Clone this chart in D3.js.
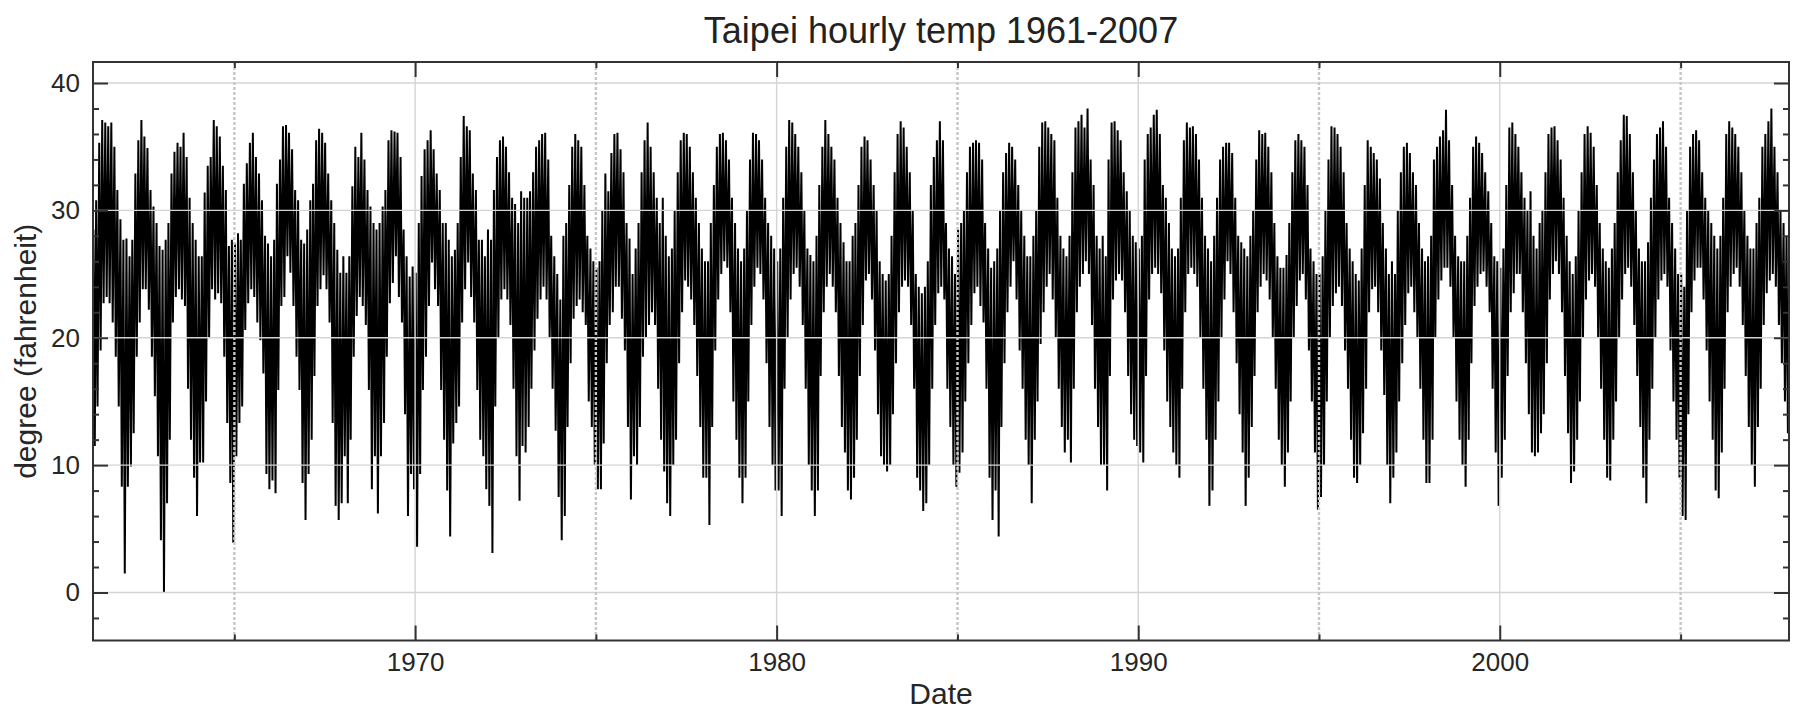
<!DOCTYPE html>
<html>
<head>
<meta charset="utf-8">
<script src="https://cdn.jsdelivr.net/npm/d3@7"></script>
<style>
  html, body { margin: 0; padding: 0; background: #fff; }
  text { font-family: "Liberation Sans", Arial, sans-serif; fill: #222; }
</style>
</head>
<body>
<script>
// monthly extremes, series starts Feb 1961
var firstYear = 1961, firstMonth = 1;

var tempMax = [
  /*1961*/ 28.5,30.8,35.3,37.1,36.9,36.6,36.9,35,31.6,29.3,27.7,
  /*1962*/ 27.8,26.4,27.7,32.9,35.5,37.1,35.8,34.9,31.6,30.3,29,27.2,
  /*1963*/ 26.9,27.7,29,32.9,34.6,35.3,35,36.1,34.2,31,29,27.7,
  /*1964*/ 26.4,26.4,31.4,33.5,34.2,37.1,36.6,35.8,33.5,31.6,27.2,27.7,
  /*1965*/ 27.4,28.2,27.7,32.1,33.7,35.3,36.1,34.2,32.9,30.8,28,27.4,
  /*1966*/ 26.4,27.7,32.1,34,36.6,36.7,36.1,34.8,31.6,30.8,27.7,27.4,
  /*1967*/ 28.5,30.8,32.1,35.5,36.4,36.1,35.3,32.9,30.8,29,26.9,25.1,
  /*1968*/ 26.4,25.1,26.4,31.9,35,34.2,36.1,34,31.6,30.3,29,28.5,
  /*1969*/ 29,30.3,31.6,35.5,36.3,36.2,36.1,34.2,28.5,26.4,24.8,25.6,
  /*1970*/ 25.1,29,32.7,34.8,35.5,36.3,34.8,32.9,31.6,29,29,27.7,
  /*1971*/ 26.4,26.9,29,34.2,37.4,36.6,36.3,32.9,31.6,27.7,27.7,26.4,
  /*1972*/ 28.5,27.7,31.6,34.2,35.5,35.8,35,33,31,30.5,29,31.5,
  /*1973*/ 31,31,31.5,33,35,35.5,36,36.1,34,28,26.4,25,
  /*1974*/ 23,28,29,32,35,36,35.5,35,32,28,27,26,
  /*1975*/ 25.5,26,30,32.9,31.5,34.5,36,36.1,34.8,33,29,27.8,
  /*1976*/ 25,27,29,33,35.5,36.9,35,33,31,29,31,28,
  /*1977*/ 26.4,27,30,33,35.5,36.1,36,35,33,31,29,27,
  /*1978*/ 26,26,29,32,35,36,36.1,35.5,34,31,29,27,
  /*1979*/ 26,27,30,34,36.1,36,35.5,34,31,29,28,27,
  /*1980*/ 26,27,31,35,37.1,36.9,36,35,33,30,27,26.5,
  /*1981*/ 26,28,32,35,37.1,36,35,34,31,29,27.5,26,
  /*1982*/ 26,28,29,32,35,35.8,35.5,34,32,30,26,25,
  /*1983*/ 24.5,25,28,33,36,37,36.5,35,33,30,25,24,
  /*1984*/ 23.5,24,26,32,34.2,35.5,37,35.5,29,27,26.4,25,
  /*1985*/ 28.5,29,30,33,35,35.3,35.5,35.3,34,29,27,25.5,
  /*1986*/ 26,27,30,33,34.5,35.3,35,34,32,30,28,26.4,
  /*1987*/ 26.4,28,30,35,36.9,37,36.5,36,35.5,31,28,27,
  /*1988*/ 26.4,28,33,36.5,37,37.5,36.5,38,34,32,28,27,
  /*1989*/ 28,26.4,34,36.9,37,36.3,35.5,33,31.5,30,28,27.5,
  /*1990*/ 27,28,34,36,36.5,37.5,37.9,36,32,31,29,27,
  /*1991*/ 26.4,27,31,35.5,36.9,36.5,36.6,36,34,31,28,27,
  /*1992*/ 26,28,31,34,35,35.3,35.3,34.5,31,28,27.5,27,
  /*1993*/ 26.4,28,30,34,36.3,36,36.1,35,33,29,26.4,25.5,
  /*1994*/ 25.5,26.5,29,33,35.5,36,35.5,35,32,27,26,25,
  /*1995*/ 25,26.4,30,34,36.6,36.5,36,35,33,29,27,26,
  /*1996*/ 25,24.5,27,32,35.5,35,34.5,34,32.5,29,27,25,
  /*1997*/ 26,25,30,33,35,35.3,34.5,33,32,29,27,26,
  /*1998*/ 26.4,28,34,35,35.8,36.3,37.9,35.5,32,28,26.4,26,
  /*1999*/ 26,28,31,35,35.8,35.3,34.5,33,31.5,29,26.4,26,
  /*2000*/ 25.5,27,32,36.5,36.9,36,35,33,31,30,31.5,28,
  /*2001*/ 27,29,30,33,36,36.5,36.6,35.5,34,31,28,26,
  /*2002*/ 25,26.4,30,33,36,36.6,36.1,35,32,29,27,26,
  /*2003*/ 25.5,27,29,33,35.5,37.5,37.4,36,33,30,27,26,
  /*2004*/ 26,27.5,31,34,36,36.5,37,35,31,29,27,25,
  /*2005*/ 25,24,30,35,36,36.3,35.5,33,31,30,29,28,
  /*2006*/ 27,28,31,36,37,36.5,36,35,33,30,28,27,
  /*2007*/ 27,29,31,35,36,37,38,35,33,30,29,28
];

var tempMin = [
  /*1961*/ 11.5,14.6,19,22.7,23.2,22.7,21.2,18.5,14.6,8.3,1.5,
  /*1962*/ 8.3,9.9,12.5,18.5,21.2,23.8,23.8,22.2,18.5,15.4,10.7,4.1,
  /*1963*/ 0,7,12,21.2,23.2,23.8,23,22.5,16,12,9,6,
  /*1964*/ 10.2,10.2,15,20,23.8,23,23.5,22.7,18.5,13.3,8.6,3.9,
  /*1965*/ 10.7,13.3,14.6,20.6,22.7,23.8,23.2,21.2,19.8,17.2,9.3,8.1,
  /*1966*/ 8.8,7.8,15.9,22.5,23.2,26.4,25.1,22.5,18.5,15.9,8.6,5.7,
  /*1967*/ 9.3,12,17,22.5,23.8,24.9,23.8,21.2,13.3,6.8,5.7,7,
  /*1968*/ 10.7,7,12,18.5,21.7,23.2,22.5,21,15.9,8.1,10.7,6.2,
  /*1969*/ 10.7,13.3,18.5,22.7,24.3,26.4,23.2,21.2,14,6,9.3,8.1,
  /*1970*/ 3.6,9.3,15.9,18.5,22.5,25.9,23.8,22.5,15.9,12,8,4.4,
  /*1971*/ 11.7,13.3,14.6,21.2,23.8,25.9,23.2,21.2,15.9,12,10.7,8.1,
  /*1972*/ 6.8,3.1,14.6,20,23,23.8,23,21,16,10.7,7.2,11.5,
  /*1973*/ 11,13,16,19,21.5,23,24,23,20,16,12.7,7.5,
  /*1974*/ 4.1,6,13,18,21.5,22.5,23,22,21,15,13,10,
  /*1975*/ 8.1,8.1,11.7,18,21,22,24,24,21.5,19,13,7.3,
  /*1976*/ 10.7,10,13,18.5,20,21,22,21,16,12,9.5,7,
  /*1977*/ 6,10,12,18,22,24.5,24,23,21,17,13,9,
  /*1978*/ 9,5.3,13,19,23,25,26,25.5,22,15,12,9,
  /*1979*/ 7,9,15,21,24,25.5,25,23,18,13,10,8,
  /*1980*/ 8,6,16,20,23,25,25.5,24,21,16,10,8,
  /*1981*/ 6,8,17,22,24,25,24,22,17,13,11,8,
  /*1982*/ 7.3,9,12,17,21,24.5,25,23,19,14,10.7,10,
  /*1983*/ 9.5,10,14,18,22,24,24.5,24,21,16,9,8,
  /*1984*/ 6.4,7,10,16,21,23.5,24,23,16,13,10,8.3,
  /*1985*/ 9.4,11,15,18,21,23.5,24,22.5,21.2,16,9,5.7,
  /*1986*/ 8,4.4,13,18,22,24,26,23,19,16,12,10,
  /*1987*/ 7,12,15,19.5,22,24,25,23,20,16,13,11,
  /*1988*/ 12,10.2,16,22,24,25,26,25,21,16,13,10,
  /*1989*/ 10,8,17,23,24.5,25,24.5,22,17,14,12,11.5,
  /*1990*/ 11,10.2,17,23,25,25.5,25,23.5,19,15,13,11,
  /*1991*/ 10,9,16,22,25,25.5,25,24,20,16,12,6.8,
  /*1992*/ 8,12,15,20,23,26,25,22,18,14,11,6.8,
  /*1993*/ 9,13,17,22,24,25,24.5,23,20,16,12,10,
  /*1994*/ 8.3,11,15,20,22.5,24.5,25,23,19,15,11,6.5,
  /*1995*/ 7.5,10,15,20,22.5,23.5,24,22.5,19,16,12,9,
  /*1996*/ 8.6,10,12.5,16,22,23.8,24,22,19,15.5,10,7,
  /*1997*/ 9,11,15,18,21,23.5,24,22,20,16,12,8.6,
  /*1998*/ 8.6,12,20,23,24.5,25.5,25.5,24,20,15,12,10,
  /*1999*/ 8.3,12,18,22.5,24,25,25.2,24,22,16,11,6.8,
  /*2000*/ 9,12,17,22,23.5,25,25,22,18,14,11,10.7,
  /*2001*/ 11,12.5,14,18,23,25,26,25,22,17,12.5,8.6,
  /*2002*/ 9.5,12,15,20,23,24.5,25,24,20,16,12,9,
  /*2003*/ 8.8,12,15,20,23,25,25.5,24,21,17,13,9,
  /*2004*/ 7,12,16,20,23,24.5,25,24,19,15,12,9,
  /*2005*/ 6,5.7,14,22,24.5,25.5,25.5,23,19,15,12,8,
  /*2006*/ 7.4,11,16,22,24,25,25.5,24,21,17,13,10,
  /*2007*/ 8.3,13,16,21,23.5,24.5,25,24,21,18,15,12.5
];

var yTicks = [0, 10, 20, 30, 40];
var yMinorTicks = [-2, 2, 4, 6, 8, 12, 14, 16, 18, 22, 24, 26, 28, 32, 34, 36, 38];
var xMajorYears = [1970, 1980, 1990, 2000];
var xMinorYears = [1965, 1975, 1985, 1995, 2005];

var W = 1795, H = 711;
var plotLeft = 93, plotRight = 1789, plotTop = 62, plotBottom = 640.5;

var svg = d3.select("body").append("svg")
    .attr("width", W).attr("height", H);

var x = d3.scaleTime()
    .domain([new Date(1961, 1, 3), new Date(2008, 0, 1)])
    .range([plotLeft, plotRight]);
var y = d3.scaleLinear()
    .domain([-3.77, 41.65])
    .range([plotBottom, plotTop]);

svg.append("clipPath").attr("id", "plotclip")
  .append("rect")
    .attr("x", plotLeft).attr("y", plotTop)
    .attr("width", plotRight - plotLeft).attr("height", plotBottom - plotTop);

// zig-zag through the monthly max / min
var points = [];
tempMax.forEach(function(v, i) {
  points.push({ date: new Date(firstYear, firstMonth + i, 7), t: v });
  points.push({ date: new Date(firstYear, firstMonth + i, 21), t: tempMin[i] });
});

var line = d3.line()
    .x(function(d) { return x(d.date); })
    .y(function(d) { return y(d.t); });

svg.append("path")
    .datum(points)
    .attr("clip-path", "url(#plotclip)")
    .attr("d", line)
    .style("fill", "none")
    .style("stroke", "#000")
    .style("stroke-width", 2)
    .style("stroke-linejoin", "miter")
    .style("stroke-miterlimit", 2);

// grid is drawn over the data, as in the picture
var grid = svg.append("g").attr("clip-path", "url(#plotclip)");
grid.selectAll(".hgrid").data(yTicks).enter().append("line")
    .attr("x1", plotLeft).attr("x2", plotRight)
    .attr("y1", function(d) { return y(d); })
    .attr("y2", function(d) { return y(d); })
    .style("stroke", "#d4d4d4").style("stroke-width", 1.4);
grid.selectAll(".vgrid").data(xMajorYears).enter().append("line")
    .attr("x1", function(d) { return x(new Date(d, 0, 1)); })
    .attr("x2", function(d) { return x(new Date(d, 0, 1)); })
    .attr("y1", plotTop).attr("y2", plotBottom)
    .style("stroke", "#d4d4d4").style("stroke-width", 1.4);
grid.selectAll(".vminor").data(xMinorYears).enter().append("line")
    .attr("x1", function(d) { return x(new Date(d, 0, 1)); })
    .attr("x2", function(d) { return x(new Date(d, 0, 1)); })
    .attr("y1", plotTop).attr("y2", plotBottom)
    .style("stroke", "#c6c6c6").style("stroke-width", 2.4)
    .style("stroke-dasharray", "3,2");

// ticks, pointing inwards on all four sides
function styleAxis(g) {
  g.select(".domain").remove();
  g.selectAll(".tick line").style("stroke", "#333").style("stroke-width", 2);
  g.selectAll(".tick text")
    .style("font-family", "'Liberation Sans', Arial, sans-serif")
    .style("font-size", "26px").style("fill", "#262626");
}
var xDates = xMajorYears.map(function(d) { return new Date(d, 0, 1); });
var xMinorDates = xMinorYears.map(function(d) { return new Date(d, 0, 1); });

svg.append("g").attr("transform", "translate(0," + plotBottom + ")")
    .call(d3.axisBottom(x).tickValues(xDates).tickSize(-15).tickPadding(12)
      .tickFormat(d3.timeFormat("%Y")))
    .call(styleAxis);
svg.append("g").attr("transform", "translate(0," + plotTop + ")")
    .call(d3.axisTop(x).tickValues(xDates).tickSize(-15).tickFormat(""))
    .call(styleAxis);
svg.append("g").attr("transform", "translate(0," + plotBottom + ")")
    .call(d3.axisBottom(x).tickValues(xMinorDates).tickSize(-6).tickFormat(""))
    .call(styleAxis);
svg.append("g").attr("transform", "translate(0," + plotTop + ")")
    .call(d3.axisTop(x).tickValues(xMinorDates).tickSize(-6).tickFormat(""))
    .call(styleAxis);

svg.append("g").attr("transform", "translate(" + plotLeft + ",0)")
    .call(d3.axisLeft(y).tickValues(yTicks).tickSize(-15).tickPadding(13))
    .call(styleAxis);
svg.append("g").attr("transform", "translate(" + plotRight + ",0)")
    .call(d3.axisRight(y).tickValues(yTicks).tickSize(-15).tickFormat(""))
    .call(styleAxis);
svg.append("g").attr("transform", "translate(" + plotLeft + ",0)")
    .call(d3.axisLeft(y).tickValues(yMinorTicks).tickSize(-6).tickFormat(""))
    .call(styleAxis);
svg.append("g").attr("transform", "translate(" + plotRight + ",0)")
    .call(d3.axisRight(y).tickValues(yMinorTicks).tickSize(-6).tickFormat(""))
    .call(styleAxis);

// frame
svg.append("rect")
    .attr("x", plotLeft).attr("y", plotTop)
    .attr("width", plotRight - plotLeft).attr("height", plotBottom - plotTop)
    .style("fill", "none").style("stroke", "#333").style("stroke-width", 2);

// titles
svg.append("text")
    .attr("x", (plotLeft + plotRight) / 2).attr("y", 43)
    .attr("text-anchor", "middle")
    .style("font-size", "36px")
    .text("Taipei hourly temp 1961-2007");
svg.append("text")
    .attr("x", (plotLeft + plotRight) / 2).attr("y", 704)
    .attr("text-anchor", "middle")
    .style("font-size", "30px").style("fill", "#262626")
    .text("Date");
svg.append("text")
    .attr("transform", "translate(36," + (plotTop + plotBottom) / 2 + ") rotate(-90)")
    .attr("text-anchor", "middle")
    .style("font-size", "30px").style("fill", "#262626")
    .text("degree (fahrenheit)");
</script>
</body>
</html>
